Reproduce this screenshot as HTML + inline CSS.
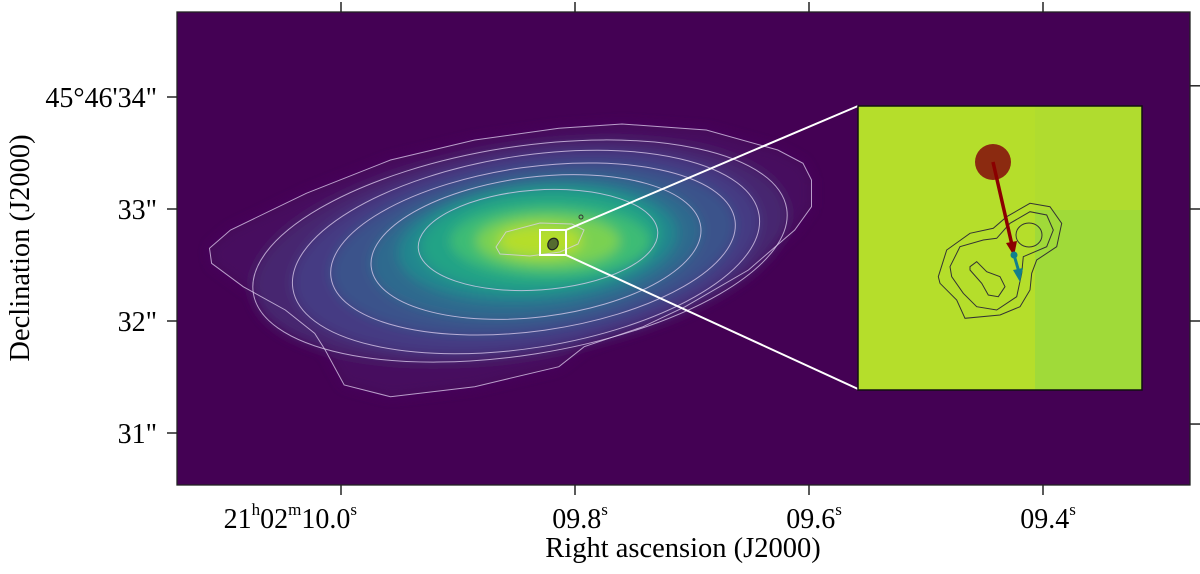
<!DOCTYPE html>
<html><head><meta charset="utf-8">
<style>
html,body{margin:0;padding:0;background:#fff;}
svg{display:block;font-family:"Liberation Serif",serif;}
</style></head>
<body>
<svg id="fig" width="1200" height="574" viewBox="0 0 1200 574" xmlns="http://www.w3.org/2000/svg">
<defs>
  <clipPath id="plotclip"><rect x="177" y="12" width="1013" height="473"/></clipPath>
  <filter id="blur" x="-20%" y="-20%" width="140%" height="140%"><feGaussianBlur stdDeviation="6"/></filter>
</defs>
<rect x="177" y="12" width="1013" height="473" fill="#440154"/>
<g clip-path="url(#plotclip)">
  <g filter="url(#blur)">
    <path d="M209.5,248.3 L230.5,230 L306.3,193.3 L390.5,160 L474.7,140 L558.9,128.3 L622,124 L706.3,130 L777.8,150 L803,163.3 L811.5,180 L811.5,206.7 L794.7,230 L748.4,270 L685.2,306.7 L643.1,326.7 L584.2,346.7 L558.9,366.7 L474.7,386.7 L390.5,396.7 L344.2,385 L325.2,350 L314.7,333.3 L285.3,310 L243.2,286.7 L211.6,263.3 Z" fill="#46105f"/>
    <ellipse cx="520" cy="251" rx="270" ry="104" transform="rotate(-9 520 251)" fill="#47256f"/>
    <ellipse cx="526" cy="252" rx="236" ry="96" transform="rotate(-9 526 252)" fill="#443a83"/>
    <ellipse cx="533" cy="249" rx="204" ry="82" transform="rotate(-8 533 249)" fill="#3b528b"/>
    <ellipse cx="536" cy="247" rx="166" ry="70" transform="rotate(-7 536 247)" fill="#2f6b8e"/>
    <ellipse cx="538" cy="243" rx="140" ry="58" transform="rotate(-5 538 243)" fill="#24878e"/>
    <ellipse cx="540" cy="240" rx="120" ry="50" transform="rotate(-4 540 240)" fill="#20a386"/>
    <ellipse cx="550" cy="241" rx="100" ry="36" fill="#3dbc74"/>
    <ellipse cx="548" cy="241" rx="72" ry="26" fill="#7ad151"/>
    <ellipse cx="540" cy="241" rx="42" ry="16" fill="#b5de2b"/>
  </g>
  <g fill="none" stroke="#e0d0f0" stroke-opacity="0.75" stroke-width="1">
    <path d="M209.5,248.3 L230.5,230 L306.3,193.3 L390.5,160 L474.7,140 L558.9,128.3 L622,124 L706.3,130 L777.8,150 L803,163.3 L811.5,180 L811.5,206.7 L794.7,230 L748.4,270 L685.2,306.7 L643.1,326.7 L584.2,346.7 L558.9,366.7 L474.7,386.7 L390.5,396.7 L344.2,385 L325.2,350 L314.7,333.3 L285.3,310 L243.2,286.7 L211.6,263.3 Z"/>
    <ellipse cx="520" cy="251" rx="270" ry="104" transform="rotate(-9 520 251)"/>
    <ellipse cx="526" cy="252" rx="236" ry="96" transform="rotate(-9 526 252)"/>
    <ellipse cx="533" cy="249" rx="204" ry="82" transform="rotate(-8 533 249)"/>
    <ellipse cx="536" cy="247" rx="166" ry="70" transform="rotate(-7 536 247)"/>
    <ellipse cx="538" cy="240" rx="120" ry="50" transform="rotate(-4 538 240)"/>
    <path d="M496,247 L506,232 L540,223 L572,224 L584,230 L578,244 L560,252 L530,256 L500,254 Z"/>
  </g>
  <g>
    <ellipse cx="553" cy="244" rx="5" ry="6" transform="rotate(30 553 244)" fill="#556b2f" stroke="#222" stroke-width="1.2"/>
    <circle cx="581" cy="217" r="2" fill="none" stroke="#333" stroke-width="1"/>
  </g>
  <line x1="566" y1="230" x2="858" y2="106" stroke="#fff" stroke-width="2"/>
  <line x1="566" y1="255" x2="858" y2="389" stroke="#fff" stroke-width="2"/>
  <rect x="540" y="230" width="26" height="25" fill="none" stroke="#fff" stroke-width="2"/>
</g>
<g>
  <rect x="858" y="106" width="284" height="284" fill="#b5de2b"/>
  <rect x="1035" y="106" width="107" height="104" fill="#b0dc2f"/>
  <rect x="1035" y="210" width="107" height="180" fill="#a0da39"/>
  <rect x="858" y="106" width="284" height="284" fill="none" stroke="#111" stroke-width="1.5"/>
  <g fill="none" stroke="#333" stroke-width="1">
    <path d="M938.3,276.7 L946.7,250 L970,233.3 L993.3,228.3 L1006.7,216.7 L1030,203.3 L1050,206.7 L1061.7,223.3 L1056.7,246.7 L1036.7,260 L1031.7,273.3 L1030,290 L1020,306.7 L1000,315 L965,318.3 L956.7,300 L940,283.3 Z"/>
    <path d="M950,266.7 L960,246.7 L983.3,240 L996.7,238.3 L1010,223.3 L1030,211.7 L1046.7,215 L1053.3,230 L1046.7,246.7 L1023.3,256.7 L1021.7,273.3 L1016.7,296.7 L996.7,310 L976.7,306.7 L963.3,293.3 L951.7,276.7 Z"/>
    <ellipse cx="1029" cy="235" rx="13" ry="12"/>
    <path d="M970,266.7 L976.7,261.7 L986.7,271.7 L1000,276.7 L1005,286.7 L998.3,296.7 L988.3,295 L981.7,283.3 L970,270 Z"/>
  </g>
  <circle cx="993" cy="162" r="18" fill="#8b2a10"/>
  <line x1="993" y1="162" x2="1012" y2="245" stroke="#8b0000" stroke-width="3.5"/>
  <polygon points="1006,243 1017,241 1014,256" fill="#8b0000"/>
  <circle cx="1014" cy="255" r="3.5" fill="#127f8c"/>
  <line x1="1014" y1="255" x2="1019" y2="272" stroke="#127f8c" stroke-width="3"/>
  <polygon points="1013,270 1023,268 1020,282" fill="#127f8c"/>
</g>
<rect x="177" y="12" width="1013" height="473" fill="none" stroke="#222" stroke-width="1.3"/>
<g id="axes"></g>
<text x="683" y="557" font-size="28.5" text-anchor="middle">Right ascension (J2000)</text>
<text transform="translate(29,248) rotate(-90)" font-size="28.5" text-anchor="middle">Declination (J2000)</text>
</svg>
<script>
const xTickSeconds = [10.0, 9.8, 9.6, 9.4];
const xTickLabels = ["10.0", "09.8", "09.6", "09.4"];
const yTickArcsec = [34, 33, 32, 31];
const yTickLabels = ["45°46'34\"", "33\"", "32\"", "31\""];
const rightTickArcsec = [34.1, 33, 32, 31.08];

function xScale(s){ return 341 + (10.0 - s) / 0.2 * 234; }
function yScale(a){ return 97 + (34 - a) * 112; }

const NS = "http://www.w3.org/2000/svg";
const axes = document.getElementById("axes");
function mk(tag, attrs){ const e=document.createElementNS(NS,tag); for(const k in attrs) e.setAttribute(k,attrs[k]); axes.appendChild(e); return e; }

xTickSeconds.forEach((s,i)=>{
  const x = xScale(s);
  const t1 = mk("line",{x1:x,y1:485,x2:x,y2:495,stroke:"#222","stroke-width":1.5});
  
  
  const t2 = mk("line",{x1:x,y1:2,x2:x,y2:12,stroke:"#222","stroke-width":1.5});
  
  
  const tx = mk("text",{x:x, y:528, "font-size":28, "text-anchor": i===0 ? "end" : "middle"});
  
  
  if(i===0){
    tx.setAttribute("x", x + 16);
    tx.innerHTML = '21<tspan dy="-13" font-size="17">h</tspan><tspan dy="13">02</tspan><tspan dy="-13" font-size="17">m</tspan><tspan dy="13">'+xTickLabels[i]+'</tspan><tspan dy="-13" font-size="17">s</tspan>';
  } else {
    tx.setAttribute("x", x + 5);
    tx.innerHTML = xTickLabels[i]+'<tspan dy="-13" font-size="17">s</tspan>';
  }
});
yTickArcsec.forEach((a,i)=>{
  const y = yScale(a);
  const t = mk("line",{x1:167,y1:y,x2:177,y2:y,stroke:"#222","stroke-width":1.5});
  
  
  const tx = mk("text",{x:157, y:y+10, "font-size":28, "text-anchor":"end"});
  
  
  tx.textContent = yTickLabels[i];
});
rightTickArcsec.forEach((a)=>{
  const y = yScale(a);
  const t = mk("line",{x1:1190,y1:y,x2:1200,y2:y,stroke:"#222","stroke-width":1.5});
  
  
});
</script>
</body></html>
